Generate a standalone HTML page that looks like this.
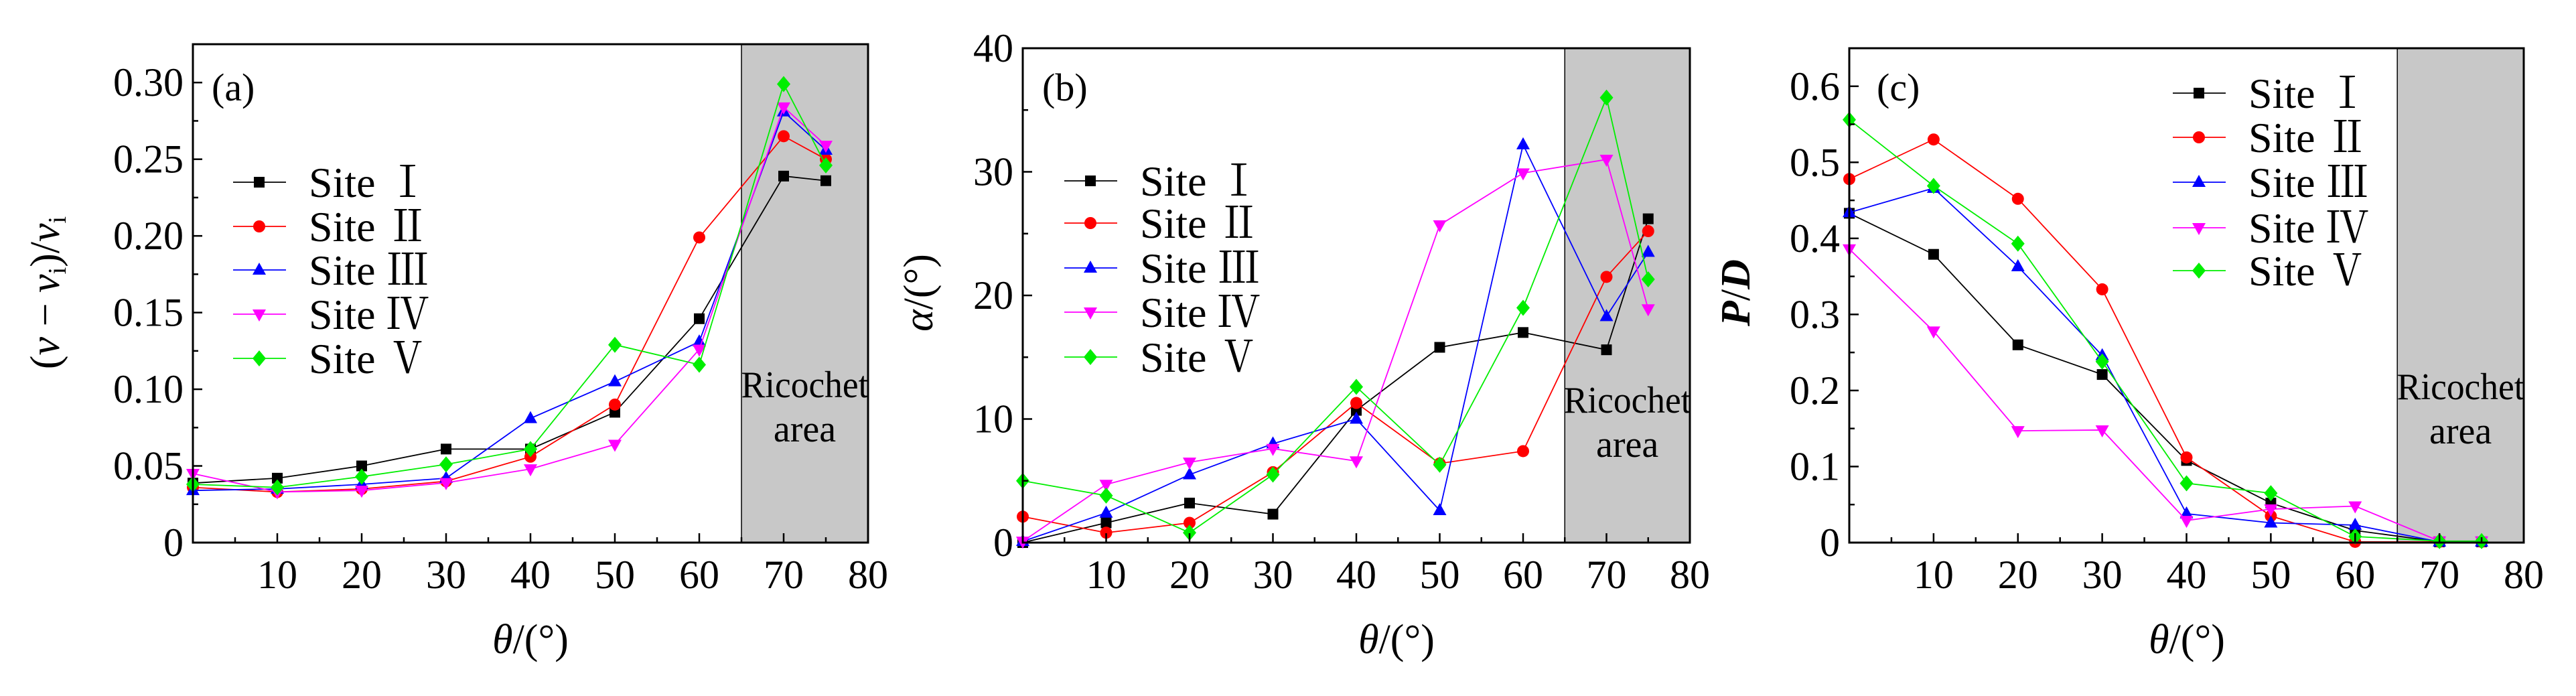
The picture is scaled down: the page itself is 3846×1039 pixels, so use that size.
<!DOCTYPE html>
<html><head><meta charset="utf-8">
<style>
html,body{margin:0;padding:0;background:#fff;}
svg{display:block;}
text{font-family:"Liberation Serif","Noto Serif CJK SC","Noto Sans CJK SC",serif;fill:#000;}
</style></head>
<body>
<svg id="fig" width="3846" height="1039" viewBox="0 0 3846 1039" xmlns="http://www.w3.org/2000/svg"></svg>
<script>
const NS="http://www.w3.org/2000/svg";
const angles=[0,10,20,30,40,50,60,70,75];
const siteNames=["Site  Ⅰ","Site  Ⅱ","Site  Ⅲ","Site  Ⅳ","Site  Ⅴ"];
const colors=["#000000","#ff0000","#0000ff","#ff00ff","#00ee00"];
const markers=["square","circle","triangle","down","diamond"];
const xTicks=[10,20,30,40,50,60,70,80];
// panel a
const aSite1=[0.0388,0.042,0.050,0.061,0.061,0.085,0.146,0.239,0.236];
const aSite2=[0.036,0.033,0.035,0.040,0.056,0.090,0.199,0.265,0.250];
const aSite3=[0.034,0.035,0.038,0.042,0.081,0.105,0.131,0.281,0.256];
const aSite4=[0.045,0.033,0.034,0.039,0.048,0.064,0.126,0.284,0.259];
const aSite5=[0.038,0.036,0.043,0.051,0.061,0.129,0.116,0.299,0.246];
const aTicks=["0","0.05","0.10","0.15","0.20","0.25","0.30"];
// panel b
const bSite1=[0,1.6,3.2,2.3,10.7,15.8,17.0,15.6,26.2];
const bSite2=[2.1,0.8,1.6,5.7,11.3,6.4,7.4,21.5,25.2];
const bSite3=[0.1,2.4,5.5,8.0,10.0,2.6,32.2,18.3,23.5];
const bSite4=[0.1,4.7,6.5,7.6,6.6,25.7,29.9,31.0,18.9];
const bSite5=[5.0,3.8,0.8,5.5,12.6,6.3,19.0,36.0,21.3];
const bTicks=["0","10","20","30","40"];
// panel c
const cSite1=[0.433,0.379,0.260,0.221,0.108,0.052,0.016,0.001,0.001];
const cSite2=[0.478,0.530,0.452,0.333,0.112,0.035,0.001,0.001,0.001];
const cSite3=[0.434,0.466,0.363,0.246,0.038,0.026,0.023,0.001,0.001];
const cSite4=[0.386,0.278,0.147,0.148,0.029,0.044,0.048,0.002,0.002];
const cSite5=[0.556,0.469,0.393,0.238,0.078,0.065,0.008,0.002,0.002];
const cTicks=["0","0.1","0.2","0.3","0.4","0.5","0.6"];

const svg=document.getElementById('fig');
function el(tag,attrs,parent){const e=document.createElementNS(NS,tag);for(const k in attrs)e.setAttribute(k,attrs[k]);(parent||svg).appendChild(e);return e;}

function marker(g,type,cx,cy,c){
  let m;
  if(type==="square")m=el('rect',{x:cx-8,y:cy-8,width:16,height:16,fill:c},g);
  else if(type==="circle")m=el('ellipse',{cx:cx,cy:cy,rx:9,ry:9,fill:c},g);
  else if(type==="triangle")m=el('polygon',{points:`${cx},${cy-11} ${cx+10},${cy+7} ${cx-10},${cy+7}`,fill:c},g);
  else if(type==="down")m=el('polygon',{points:`${cx},${cy+11} ${cx+10},${cy-7} ${cx-10},${cy-7}`,fill:c},g);
  else m=el('polygon',{points:`${cx},${cy-12} ${cx+10},${cy} ${cx},${cy+12} ${cx-10},${cy}`,fill:c},g);
  
  
  return m;
}

function panel(p){
  const g=el('g',{});
  
  
  const xs=v=>p.L+(v/80)*(p.R-p.L);
  const ys=v=>p.B-(v/p.ymax)*(p.B-p.T);
  // ricochet area
  const r=el('rect',{x:xs(65),y:p.T,width:p.R-xs(65),height:p.B-p.T,fill:"#c8c8c8",stroke:"#000","stroke-width":1.5},g);
  
  
  const t1=el('text',{x:(xs(65)+p.R)/2,y:p.ricY,"font-size":56,"text-anchor":"middle",textLength:190,lengthAdjust:"spacingAndGlyphs"},g);t1.textContent="Ricochet";
  
  
  const t2=el('text',{x:(xs(65)+p.R)/2,y:p.ricY+66,"font-size":56,"text-anchor":"middle"},g);t2.textContent="area";
  
  
  // series
  p.series.forEach((s,i)=>{
    const sg=el('g',{},g);
    
    
    const pts=s.map((v,j)=>xs(angles[j])+","+ys(v)).join(" ");
    el('polyline',{points:pts,fill:"none",stroke:colors[i],"stroke-width":1.8},sg);
    s.forEach((v,j)=>marker(sg,markers[i],xs(angles[j]),ys(v),colors[i]));
  });
  // axes frame
  const f=el('rect',{x:p.L,y:p.T,width:p.R-p.L,height:p.B-p.T,fill:"none",stroke:"#000","stroke-width":3},g);
  
  
  // x ticks
  for(let v=5;v<80;v+=5){
    const major=v%10===0;
    el('line',{x1:xs(v),x2:xs(v),y1:p.B,y2:p.B-(major?14:8),stroke:"#000","stroke-width":2.5},g);
  }
  xTicks.forEach(v=>{
    const t=el('text',{x:xs(v),y:878,"font-size":60,"text-anchor":"middle"},g);
    t.textContent=String(v);
    
    
  });
  // y ticks
  const n=p.yTicks.length-1;
  for(let k=0;k<=n*2;k++){
    const v=k*p.step/2; if(v>p.ymax)break;
    const major=k%2===0;
    el('line',{x1:p.L,x2:p.L+(major?14:8),y1:ys(v),y2:ys(v),stroke:"#000","stroke-width":2.5},g);
  }
  p.yTicks.forEach((lab,k)=>{
    const t=el('text',{x:p.L-14,y:ys(k*p.step)+20,"font-size":60,"text-anchor":"end"},g);
    t.textContent=lab;
    
    
  });
  // x title
  const xt=el('text',{x:p.xtX,y:975,"font-size":62,"text-anchor":"middle"},g);
  xt.innerHTML='<tspan font-style="italic">θ</tspan>/(°)';
  
  
  // y title
  const yt=el('text',{x:0,y:0,"font-size":62,"text-anchor":"middle",transform:`translate(${p.ytX},437) rotate(-90)`},g);
  yt.innerHTML=p.ytitle;
  
  
  // panel label
  const pl=el('text',{x:p.plX,y:150,"font-size":58},g);
  pl.textContent="("+p.id+")";
  
  
  // legend
  const lg=el('g',{},g);
  
  
  p.legY.forEach((y,i)=>{
    const e=el('g',{},lg);
    
    
    el('line',{x1:p.legX,x2:p.legX+79,y1:y,y2:y,stroke:colors[i],"stroke-width":1.8},e);
    marker(e,markers[i],p.legX+39,y,colors[i]);
    const t=el('text',{x:p.legX+113,y:y+22,"font-size":64},e);
    t.textContent=siteNames[i];
  });
}

panel({id:"a",L:288,R:1296,T:66,B:810,ymax:0.325,step:0.05,yTicks:aTicks,
  series:[aSite1,aSite2,aSite3,aSite4,aSite5],ricY:593,xtX:792,ytX:88,plX:316,
  ytitle:'(<tspan font-style="italic">v</tspan> − <tspan font-style="italic">v</tspan><tspan font-size="38" dy="10">i</tspan><tspan dy="-10">)/</tspan><tspan font-style="italic">v</tspan><tspan font-size="38" dy="10">i</tspan>',
  legX:348,legY:272+0*0?[272,338,403,469,535]:[]});
panel({id:"b",L:1527,R:2523,T:72,B:810,ymax:40,step:10,yTicks:bTicks,
  series:[bSite1,bSite2,bSite3,bSite4,bSite5],ricY:616,xtX:2085,ytX:1392,plX:1556,
  ytitle:'<tspan font-style="italic">α</tspan>/(°)',
  legX:1589,legY:[270,333,400,466,533]});
panel({id:"c",L:2761,R:3768,T:72,B:810,ymax:0.65,step:0.1,yTicks:cTicks,
  series:[cSite1,cSite2,cSite3,cSite4,cSite5],ricY:596,xtX:3265,ytX:2612,plX:2802,
  ytitle:'<tspan font-style="italic" font-weight="bold">P</tspan>/<tspan font-style="italic" font-weight="bold">D</tspan>',
  legX:3244,legY:[139,205,272,340,404]});
</script>
</body></html>
